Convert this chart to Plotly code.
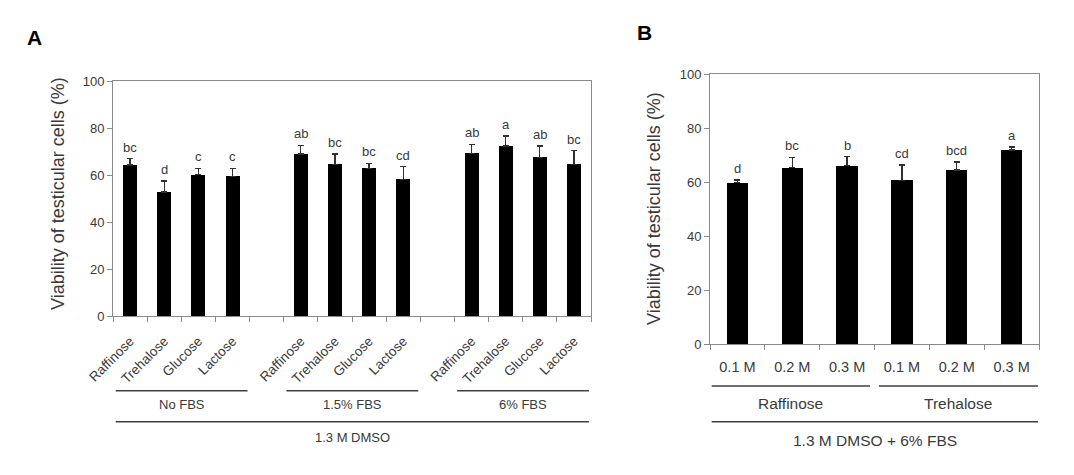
import plotly.graph_objects as go

# ---------------- data ----------------
a_sugars = ["Raffinose", "Trehalose", "Glucose", "Lactose"]
a_groups = ["No FBS", "1.5% FBS", "6% FBS"]
a_values = [[64.2, 52.8, 60.1, 59.4], [68.9, 64.6, 62.9, 58.2], [69.3, 72.3, 67.5, 64.5]]
a_errors = [[2.7, 4.7, 2.8, 3.4], [3.7, 4.3, 2.0, 5.4], [3.7, 4.3, 4.9, 5.8]]
a_letters = [["bc", "d", "c", "c"], ["ab", "bc", "bc", "cd"], ["ab", "a", "ab", "bc"]]
a_outer = "1.3 M DMSO"

b_conc = ["0.1 M", "0.2 M", "0.3 M"]
b_groups = ["Raffinose", "Trehalose"]
b_values = [[59.8, 65.3, 66.1], [60.6, 64.5, 71.9]]
b_errors = [[0.9, 3.9, 3.3], [5.7, 2.9, 1.1]]
b_letters = [["d", "bc", "b"], ["cd", "bcd", "a"]]
b_outer = "1.3 M DMSO + 6% FBS"

y_ticks = [0, 20, 40, 60, 80, 100]
y_title = "Viability of testicular cells (%)"
panel_labels = ["A", "B"]

# ---------------- helpers ----------------
W, H = 1074, 475
FONT = "Liberation Sans, Arial, sans-serif"
TXT = "#3a3a3a"
AX = "#8a8a8a"
LINE = "#404040"


def px(x):
    return x / W


def py(y):
    return 1 - y / H


fig = go.Figure()

# ----- Panel A -----
a_x, a_y, a_e, a_t, a_lab = [], [], [], [], []
for g, grp in enumerate(a_groups):
    for i, s in enumerate(a_sugars):
        a_x.append(g * 5 + i)
        a_y.append(a_values[g][i])
        a_e.append(a_errors[g][i])
        a_t.append(s)
        a_lab.append(a_letters[g][i])

fig.add_trace(go.Bar(
    x=a_x, y=a_y, width=0.41, marker=dict(color="black", line=dict(width=0)),
    error_y=dict(type="data", array=a_e, arrayminus=[0] * len(a_e), symmetric=False,
                 color="#303030", thickness=1.3, width=3),
    xaxis="x", yaxis="y", showlegend=False, hoverinfo="skip"))

# ----- Panel B -----
b_x, b_y, b_e, b_t, b_lab = [], [], [], [], []
for g, grp in enumerate(b_groups):
    for i, c in enumerate(b_conc):
        b_x.append(g * 3 + i)
        b_y.append(b_values[g][i])
        b_e.append(b_errors[g][i])
        b_t.append(c)
        b_lab.append(b_letters[g][i])

fig.add_trace(go.Bar(
    x=b_x, y=b_y, width=0.39, marker=dict(color="black", line=dict(width=0)),
    error_y=dict(type="data", array=b_e, arrayminus=[0] * len(b_e), symmetric=False,
                 color="#303030", thickness=1.3, width=3),
    xaxis="x2", yaxis="y2", showlegend=False, hoverinfo="skip"))

common_y = dict(range=[0, 100], tickmode="array", tickvals=y_ticks, ticks="outside",
                ticklen=5, tickcolor=AX, showline=True, linecolor=AX, linewidth=1,
                mirror=True, showgrid=False, zeroline=False, automargin=False,
                tickfont=dict(family=FONT, size=13, color=TXT), fixedrange=True)

fig.update_layout(
    template="none",
    width=W, height=H, margin=dict(l=0, r=0, t=0, b=0, pad=0),
    paper_bgcolor="white", plot_bgcolor="white",
    font=dict(family=FONT, color=TXT),
    bargap=0,
    xaxis=dict(domain=[px(113), px(591)], range=[-0.5, 13.5], anchor="y",
               tickmode="array", tickvals=a_x, ticktext=a_t, tickangle=-45,
               ticks="outside", ticklen=11, tickcolor="rgba(0,0,0,0)",
               minor=dict(ticks="outside", tickmode="linear", tick0=-0.5, dtick=1,
                          ticklen=5, tickcolor=AX, showgrid=False),
               showline=True, linecolor=AX, linewidth=1, mirror=True,
               showgrid=False, zeroline=False, automargin=False, fixedrange=True,
               tickfont=dict(family=FONT, size=13.5, color=TXT)),
    yaxis=dict(domain=[py(316), py(81)], anchor="x", **common_y),
    xaxis2=dict(domain=[px(710), px(1039)], range=[-0.5, 5.5], anchor="y2",
                tickmode="array", tickvals=b_x, ticktext=b_t, tickangle=0,
                ticks="outside", ticklen=10, tickcolor="rgba(0,0,0,0)",
                minor=dict(ticks="outside", tickmode="linear", tick0=-0.5, dtick=1,
                           ticklen=5, tickcolor=AX, showgrid=False),
                showline=True, linecolor=AX, linewidth=1, mirror=True,
                showgrid=False, zeroline=False, automargin=False, fixedrange=True,
                tickfont=dict(family=FONT, size=14.5, color=TXT)),
    yaxis2=dict(domain=[py(344), py(74)], anchor="x2", **common_y),
)

ann = []
shapes = []

# significance letters
for x, v, e, t in zip(a_x, a_y, a_e, a_lab):
    ann.append(dict(x=x, y=v + e, xref="x", yref="y", text=t, showarrow=False,
                    yanchor="bottom", yshift=2, font=dict(family=FONT, size=13, color=TXT)))
for x, v, e, t in zip(b_x, b_y, b_e, b_lab):
    ann.append(dict(x=x, y=v + e, xref="x2", yref="y2", text=t, showarrow=False,
                    yanchor="bottom", yshift=2, font=dict(family=FONT, size=13, color=TXT)))

# panel A group lines/labels
for g, grp in enumerate(a_groups):
    x0, x1 = g * 5 - 0.42, g * 5 + 3.44
    shapes.append(dict(type="line", xref="x", yref="paper", x0=x0, x1=x1,
                       y0=py(390.7), y1=py(390.7), line=dict(color=LINE, width=1.6)))
    ann.append(dict(x=(x0 + x1) / 2, y=py(404), xref="x", yref="paper", text=grp,
                    showarrow=False, yanchor="middle",
                    font=dict(family=FONT, size=13, color=TXT)))
shapes.append(dict(type="line", xref="x", yref="paper", x0=-0.42, x1=13.44,
                   y0=py(421.7), y1=py(421.7), line=dict(color=LINE, width=1.6)))
ann.append(dict(x=6.5, y=py(437), xref="x", yref="paper", text=a_outer, showarrow=False,
                yanchor="middle", font=dict(family=FONT, size=13, color=TXT)))

# panel B group lines/labels
b_spans = [(-0.47, 2.42), (2.58, 5.48)]
for (x0, x1), grp in zip(b_spans, b_groups):
    shapes.append(dict(type="line", xref="x2", yref="paper", x0=x0, x1=x1,
                       y0=py(386), y1=py(386), line=dict(color=LINE, width=1.6)))
    ann.append(dict(x=(x0 + x1) / 2, y=py(403.3), xref="x2", yref="paper", text=grp,
                    showarrow=False, yanchor="middle",
                    font=dict(family=FONT, size=15.5, color=TXT)))
shapes.append(dict(type="line", xref="x2", yref="paper", x0=-0.47, x1=5.48,
                   y0=py(421.7), y1=py(421.7), line=dict(color=LINE, width=1.6)))
ann.append(dict(x=2.5, y=py(440), xref="x2", yref="paper", text=b_outer, showarrow=False,
                yanchor="middle", font=dict(family=FONT, size=15.5, color=TXT)))

# y titles
ann.append(dict(x=px(58), y=py(194), xref="paper", yref="paper", text=y_title,
                textangle=-90, showarrow=False, xanchor="center", yanchor="middle",
                font=dict(family=FONT, size=18, color=TXT)))
ann.append(dict(x=px(654), y=py(209), xref="paper", yref="paper", text=y_title,
                textangle=-90, showarrow=False, xanchor="center", yanchor="middle",
                font=dict(family=FONT, size=18, color=TXT)))

# panel letters
ann.append(dict(x=px(34), y=py(38), xref="paper", yref="paper", text="<b>" + panel_labels[0] + "</b>",
                showarrow=False, xanchor="center", yanchor="middle",
                font=dict(family=FONT, size=21, color="black")))
ann.append(dict(x=px(644), y=py(32.5), xref="paper", yref="paper", text="<b>" + panel_labels[1] + "</b>",
                showarrow=False, xanchor="center", yanchor="middle",
                font=dict(family=FONT, size=21, color="black")))

fig.update_layout(annotations=ann, shapes=shapes)
fig.write_html("out.html", config={"displayModeBar": False},
               post_script="document.body.style.margin='0';document.body.style.overflow='hidden';")
